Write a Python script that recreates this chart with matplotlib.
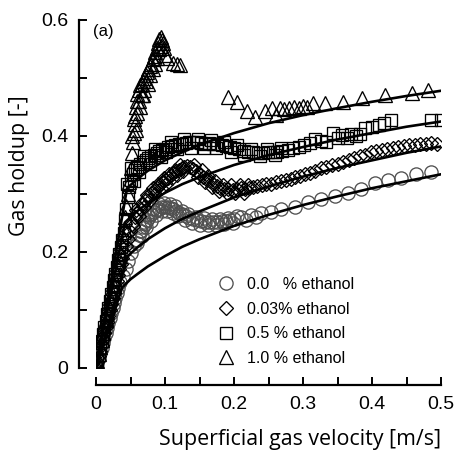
import matplotlib
matplotlib.use("Agg")
import matplotlib.pyplot as plt
from matplotlib.ticker import MultipleLocator, FuncFormatter

plt.rcParams["font.family"] = "Liberation Sans"

u_c0 = [0.000, 0.002, 0.004, 0.006, 0.008, 0.010, 0.012, 0.014, 0.016, 0.018,
        0.020, 0.022, 0.024, 0.026, 0.028, 0.030, 0.032, 0.035, 0.039, 0.043,
        0.047, 0.051, 0.055, 0.059, 0.062, 0.065, 0.068,
        0.071, 0.074, 0.077, 0.080, 0.084, 0.088, 0.092, 0.096, 0.100, 0.104,
        0.108, 0.112, 0.116, 0.120, 0.125, 0.130, 0.135, 0.140, 0.146, 0.152,
        0.158, 0.164, 0.170, 0.176, 0.182, 0.188, 0.194, 0.200, 0.210, 0.225,
        0.239, 0.254, 0.268, 0.288, 0.307, 0.326, 0.346, 0.365, 0.384, 0.404,
        0.423, 0.442, 0.464, 0.486,
        0.060, 0.064, 0.067, 0.070, 0.073, 0.076, 0.079, 0.083, 0.087, 0.091,
        0.095, 0.099, 0.103, 0.107, 0.111, 0.115, 0.119, 0.124, 0.129, 0.134,
        0.139, 0.145, 0.150, 0.156, 0.162, 0.168, 0.174, 0.180, 0.186, 0.192,
        0.198, 0.205, 0.217, 0.232]
eps_c0 = [0.000, 0.009, 0.017, 0.026, 0.034, 0.043, 0.052, 0.060, 0.069, 0.077,
          0.086, 0.095, 0.103, 0.112, 0.120, 0.129, 0.138, 0.148, 0.158, 0.170,
          0.185, 0.198, 0.210, 0.221, 0.229, 0.236, 0.243,
          0.249, 0.255, 0.260, 0.265, 0.269, 0.272, 0.275, 0.277, 0.278, 0.277,
          0.276, 0.274, 0.271, 0.268, 0.265, 0.262, 0.259, 0.257, 0.255, 0.254,
          0.252, 0.251, 0.252, 0.251, 0.253, 0.254, 0.255, 0.257, 0.260, 0.264,
          0.267, 0.269, 0.274, 0.278, 0.286, 0.291, 0.297, 0.302, 0.309, 0.319,
          0.324, 0.328, 0.334, 0.338,
          0.215, 0.236, 0.228, 0.252, 0.243, 0.263, 0.254, 0.274, 0.264, 0.282,
          0.270, 0.284, 0.270, 0.283, 0.268, 0.279, 0.262, 0.271, 0.256, 0.265,
          0.250, 0.261, 0.247, 0.259, 0.246, 0.257, 0.246, 0.257, 0.248, 0.259,
          0.250, 0.262, 0.256, 0.260]

u_c003 = [0.000, 0.002, 0.004, 0.006, 0.008, 0.010, 0.012, 0.014, 0.016, 0.018,
          0.020, 0.022, 0.024, 0.026, 0.028, 0.030, 0.032, 0.034, 0.036, 0.038,
          0.040, 0.043, 0.046, 0.049, 0.052, 0.056, 0.060, 0.064, 0.068, 0.072,
          0.076, 0.080, 0.084, 0.088, 0.092, 0.096, 0.100, 0.104, 0.108, 0.112,
          0.116, 0.120, 0.124, 0.128, 0.132, 0.136, 0.140, 0.145, 0.150, 0.155,
          0.160, 0.165, 0.170, 0.175, 0.180, 0.186, 0.192, 0.198, 0.204, 0.210,
          0.216, 0.222, 0.228, 0.234, 0.240, 0.247, 0.254, 0.261, 0.268, 0.275,
          0.282, 0.289, 0.296, 0.303, 0.310, 0.318, 0.326, 0.334, 0.342, 0.350,
          0.358, 0.366, 0.374, 0.382, 0.390, 0.398, 0.406, 0.414, 0.422, 0.430,
          0.438, 0.446, 0.454, 0.462, 0.470, 0.478, 0.486, 0.494,
          0.054, 0.058, 0.062, 0.066, 0.070, 0.074, 0.078, 0.082, 0.086, 0.090,
          0.094, 0.098, 0.102, 0.106, 0.110, 0.114, 0.118, 0.122, 0.126,
          0.142, 0.148, 0.153, 0.158, 0.163, 0.168, 0.173, 0.178, 0.184, 0.190,
          0.196, 0.202, 0.208, 0.214, 0.220]
eps_c003 = [0.000, 0.010, 0.020, 0.030, 0.040, 0.050, 0.060, 0.070, 0.080, 0.090,
            0.100, 0.110, 0.120, 0.130, 0.140, 0.150, 0.160, 0.170, 0.180, 0.190,
            0.198, 0.210, 0.223, 0.236, 0.248, 0.260, 0.268, 0.275, 0.283, 0.290,
            0.296, 0.301, 0.306, 0.311, 0.316, 0.320, 0.324, 0.328, 0.332, 0.336,
            0.339, 0.342, 0.345, 0.347, 0.348, 0.346, 0.343, 0.339, 0.334, 0.330,
            0.326, 0.322, 0.318, 0.314, 0.311, 0.309, 0.308, 0.307, 0.308, 0.310,
            0.308, 0.310, 0.312, 0.313, 0.315, 0.317, 0.318, 0.320, 0.322, 0.324,
            0.326, 0.329, 0.331, 0.334, 0.337, 0.340, 0.344, 0.346, 0.350, 0.352,
            0.356, 0.359, 0.362, 0.365, 0.368, 0.372, 0.374, 0.376, 0.378, 0.380,
            0.381, 0.382, 0.384, 0.384, 0.386, 0.386, 0.388, 0.386,
            0.245, 0.272, 0.262, 0.285, 0.278, 0.298, 0.290, 0.310, 0.300, 0.318,
            0.310, 0.328, 0.318, 0.335, 0.327, 0.342, 0.333, 0.350, 0.340,
            0.350, 0.330, 0.342, 0.320, 0.331, 0.312, 0.322, 0.305, 0.316, 0.302,
            0.315, 0.302, 0.316, 0.302, 0.316]

u_c05 = [0.000, 0.002, 0.004, 0.006, 0.008, 0.010, 0.012, 0.014, 0.016, 0.018,
         0.020, 0.022, 0.024, 0.026, 0.028, 0.030, 0.032, 0.034, 0.036, 0.038,
         0.040, 0.042, 0.044, 0.046, 0.048, 0.050, 0.053, 0.056, 0.060, 0.064,
         0.068, 0.072, 0.076, 0.080, 0.084, 0.088, 0.092, 0.096, 0.100, 0.105,
         0.110, 0.115, 0.120, 0.125, 0.130, 0.135, 0.140, 0.146, 0.152, 0.158,
         0.164, 0.170, 0.176, 0.182, 0.188, 0.194, 0.200, 0.207, 0.214, 0.221,
         0.228, 0.235, 0.242, 0.249, 0.256, 0.263, 0.270, 0.278, 0.286, 0.294,
         0.302, 0.310, 0.318, 0.326, 0.334, 0.343, 0.350, 0.357, 0.364, 0.370,
         0.377, 0.383, 0.390, 0.400, 0.410, 0.418, 0.427, 0.486, 0.500,
         0.045, 0.050, 0.055, 0.062, 0.070, 0.078, 0.086, 0.094, 0.102, 0.108,
         0.118, 0.128, 0.138, 0.148, 0.156, 0.166, 0.174, 0.185, 0.196, 0.205,
         0.215, 0.225, 0.238, 0.248, 0.260, 0.268]
eps_c05 = [0.000, 0.012, 0.023, 0.035, 0.046, 0.058, 0.070, 0.081, 0.093, 0.104,
           0.116, 0.128, 0.139, 0.151, 0.162, 0.174, 0.186, 0.197, 0.209, 0.220,
           0.232, 0.255, 0.275, 0.295, 0.312, 0.325, 0.335, 0.342, 0.347, 0.351,
           0.355, 0.358, 0.362, 0.365, 0.368, 0.371, 0.374, 0.376, 0.378, 0.381,
           0.383, 0.385, 0.386, 0.387, 0.388, 0.389, 0.390, 0.389, 0.388, 0.387,
           0.388, 0.386, 0.387, 0.385, 0.383, 0.381, 0.379, 0.377, 0.375, 0.373,
           0.372, 0.371, 0.371, 0.372, 0.372, 0.373, 0.374, 0.376, 0.379, 0.381,
           0.385, 0.388, 0.394, 0.391, 0.389, 0.405, 0.396, 0.401, 0.397, 0.403,
           0.400, 0.404, 0.413, 0.416, 0.419, 0.422, 0.428, 0.428, 0.428,
           0.318, 0.345, 0.322, 0.338, 0.366, 0.352, 0.378, 0.364, 0.372, 0.390,
           0.378, 0.395, 0.380, 0.394, 0.379, 0.393, 0.380, 0.390, 0.372, 0.385,
           0.368, 0.378, 0.366, 0.378, 0.368, 0.380]

u_c10 = [0.000, 0.002, 0.004, 0.006, 0.008, 0.010, 0.012, 0.014, 0.016, 0.018,
         0.020, 0.022, 0.024, 0.026, 0.028, 0.030, 0.032, 0.034, 0.036, 0.038,
         0.040, 0.042, 0.044, 0.046, 0.048, 0.050, 0.052, 0.054, 0.055, 0.056,
         0.057, 0.058, 0.059, 0.060, 0.062, 0.064, 0.066, 0.068, 0.070, 0.072,
         0.074, 0.076, 0.078, 0.080, 0.082, 0.084, 0.086, 0.088, 0.090, 0.092,
         0.094, 0.096, 0.098, 0.100, 0.103, 0.112, 0.117, 0.122,
         0.191, 0.204, 0.219, 0.230, 0.245, 0.255, 0.261, 0.266, 0.272, 0.279,
         0.287, 0.294, 0.300, 0.306, 0.314, 0.332, 0.358, 0.385, 0.419, 0.458,
         0.481,
         0.052, 0.055, 0.058, 0.060, 0.062, 0.064, 0.066, 0.068, 0.070, 0.072,
         0.075, 0.078, 0.082, 0.085, 0.088, 0.091, 0.094, 0.097]
eps_c10 = [0.000, 0.012, 0.024, 0.036, 0.048, 0.060, 0.072, 0.084, 0.096, 0.108,
           0.120, 0.132, 0.144, 0.156, 0.168, 0.180, 0.192, 0.204, 0.216, 0.228,
           0.240, 0.260, 0.280, 0.300, 0.320, 0.345, 0.370, 0.390, 0.405, 0.420,
           0.435, 0.450, 0.460, 0.472, 0.480, 0.488, 0.470, 0.495, 0.500, 0.505,
           0.510, 0.515, 0.520, 0.525, 0.532, 0.538, 0.545, 0.552, 0.560, 0.567,
           0.570, 0.565, 0.552, 0.540, 0.535, 0.526, 0.525, 0.522,
           0.467, 0.459, 0.443, 0.433, 0.443, 0.448, 0.436, 0.448, 0.447, 0.449,
           0.450, 0.448, 0.451, 0.450, 0.457, 0.457, 0.459, 0.465, 0.470, 0.474,
           0.479,
           0.400, 0.430, 0.410, 0.440, 0.460, 0.450, 0.490, 0.470, 0.480, 0.495,
           0.490, 0.505, 0.515, 0.525, 0.535, 0.550, 0.555, 0.560]

# ---- correlation curves ----
fit_u_c0 = [0.0, 0.038, 0.05, 0.06, 0.075, 0.1, 0.125, 0.15, 0.2, 0.25, 0.3, 0.35, 0.4, 0.45, 0.5]
fit_eps_c0 = [0.0, 0.139, 0.153, 0.162, 0.175, 0.193, 0.209, 0.222, 0.245, 0.264, 0.281, 0.296, 0.310, 0.322, 0.334]

fit_u_c003 = [0.0, 0.046, 0.06, 0.075, 0.1, 0.125, 0.15, 0.2, 0.25, 0.3, 0.35, 0.4, 0.45, 0.5]
fit_eps_c003 = [0.0, 0.193, 0.208, 0.222, 0.241, 0.257, 0.270, 0.294, 0.313, 0.330, 0.345, 0.358, 0.371, 0.382]

fit_u_c05 = [0.0, 0.042, 0.06, 0.075, 0.1, 0.125, 0.15, 0.2, 0.25, 0.3, 0.35, 0.4, 0.45, 0.5]
fit_eps_c05 = [0.0, 0.251, 0.271, 0.284, 0.302, 0.317, 0.329, 0.350, 0.367, 0.381, 0.394, 0.405, 0.416, 0.425]

fit_u_c10 = [0.0, 0.045, 0.06, 0.075, 0.1, 0.125, 0.15, 0.2, 0.25, 0.3, 0.35, 0.4, 0.45, 0.5]
fit_eps_c10 = [0.0, 0.310, 0.326, 0.340, 0.358, 0.372, 0.385, 0.405, 0.422, 0.436, 0.448, 0.459, 0.469, 0.478]

labels = ["0.0   % ethanol", "0.03% ethanol", "0.5 % ethanol", "1.0 % ethanol"]

series = [
    (u_c0, eps_c0, "o", 9.5, "#505050"),
    (u_c003, eps_c003, "D", 6.8, "black"),
    (u_c05, eps_c05, "s", 8.6, "black"),
    (u_c10, eps_c10, "^", 9.5, "black"),
]
fits = [(fit_u_c0, fit_eps_c0), (fit_u_c003, fit_eps_c003),
        (fit_u_c05, fit_eps_c05), (fit_u_c10, fit_eps_c10)]

fig = plt.figure(figsize=(4.58, 4.58), dpi=100)
ax = fig.add_axes([96 / 458, 90 / 458, 345 / 458, 348 / 458])

for (u, eps, m, ms, ec), lab in zip(series, labels):
    ax.plot(u, eps, linestyle="none", marker=m, markersize=ms, markerfacecolor="none",
            markeredgecolor=ec, markeredgewidth=0.95, label=lab, zorder=2)

for u, eps in fits:
    ax.plot(u, eps, color="black", linewidth=1.9, zorder=3)

ax.set_xlim(0, 0.5)
ax.set_ylim(0, 0.6)

for side in ["top", "right"]:
    ax.spines[side].set_visible(False)
for side in ["left", "bottom"]:
    ax.spines[side].set_position(("outward", 12))
    ax.spines[side].set_linewidth(1.6)

ax.xaxis.set_major_locator(MultipleLocator(0.1))
ax.xaxis.set_minor_locator(MultipleLocator(0.05))
ax.yaxis.set_major_locator(MultipleLocator(0.2))
ax.yaxis.set_minor_locator(MultipleLocator(0.1))
fmt = FuncFormatter(lambda v, p: "0" if abs(v) < 1e-9 else f"{v:.1f}")
ax.xaxis.set_major_formatter(fmt)
ax.yaxis.set_major_formatter(fmt)

ax.tick_params(which="both", direction="in", length=5.8, width=1.4, labelsize=14)
ax.tick_params(axis="y", which="major", pad=8)
ax.tick_params(axis="x", which="major", pad=8)

fig.text(20 / 458, 1 - 166 / 458, "Gas holdup [-]", rotation=90, ha="center", va="center",
         fontsize=15.4, family="Open Sans")
fig.text(300 / 458, 1 - 440 / 458, "Superficial gas velocity [m/s]", ha="center", va="center",
         fontsize=15.4, family="Open Sans")

ax.text(-0.008, 0.968, "(a)", transform=ax.transAxes, ha="left", va="center", fontsize=12)

ax.legend(loc="center left", bbox_to_anchor=(0.35, 0.134), frameon=False,
          borderaxespad=0, borderpad=0, handlelength=1.2, handletextpad=0.7,
          labelspacing=0.6, numpoints=1, prop={"size": 11.5})

fig.savefig("out.png", dpi=100)
